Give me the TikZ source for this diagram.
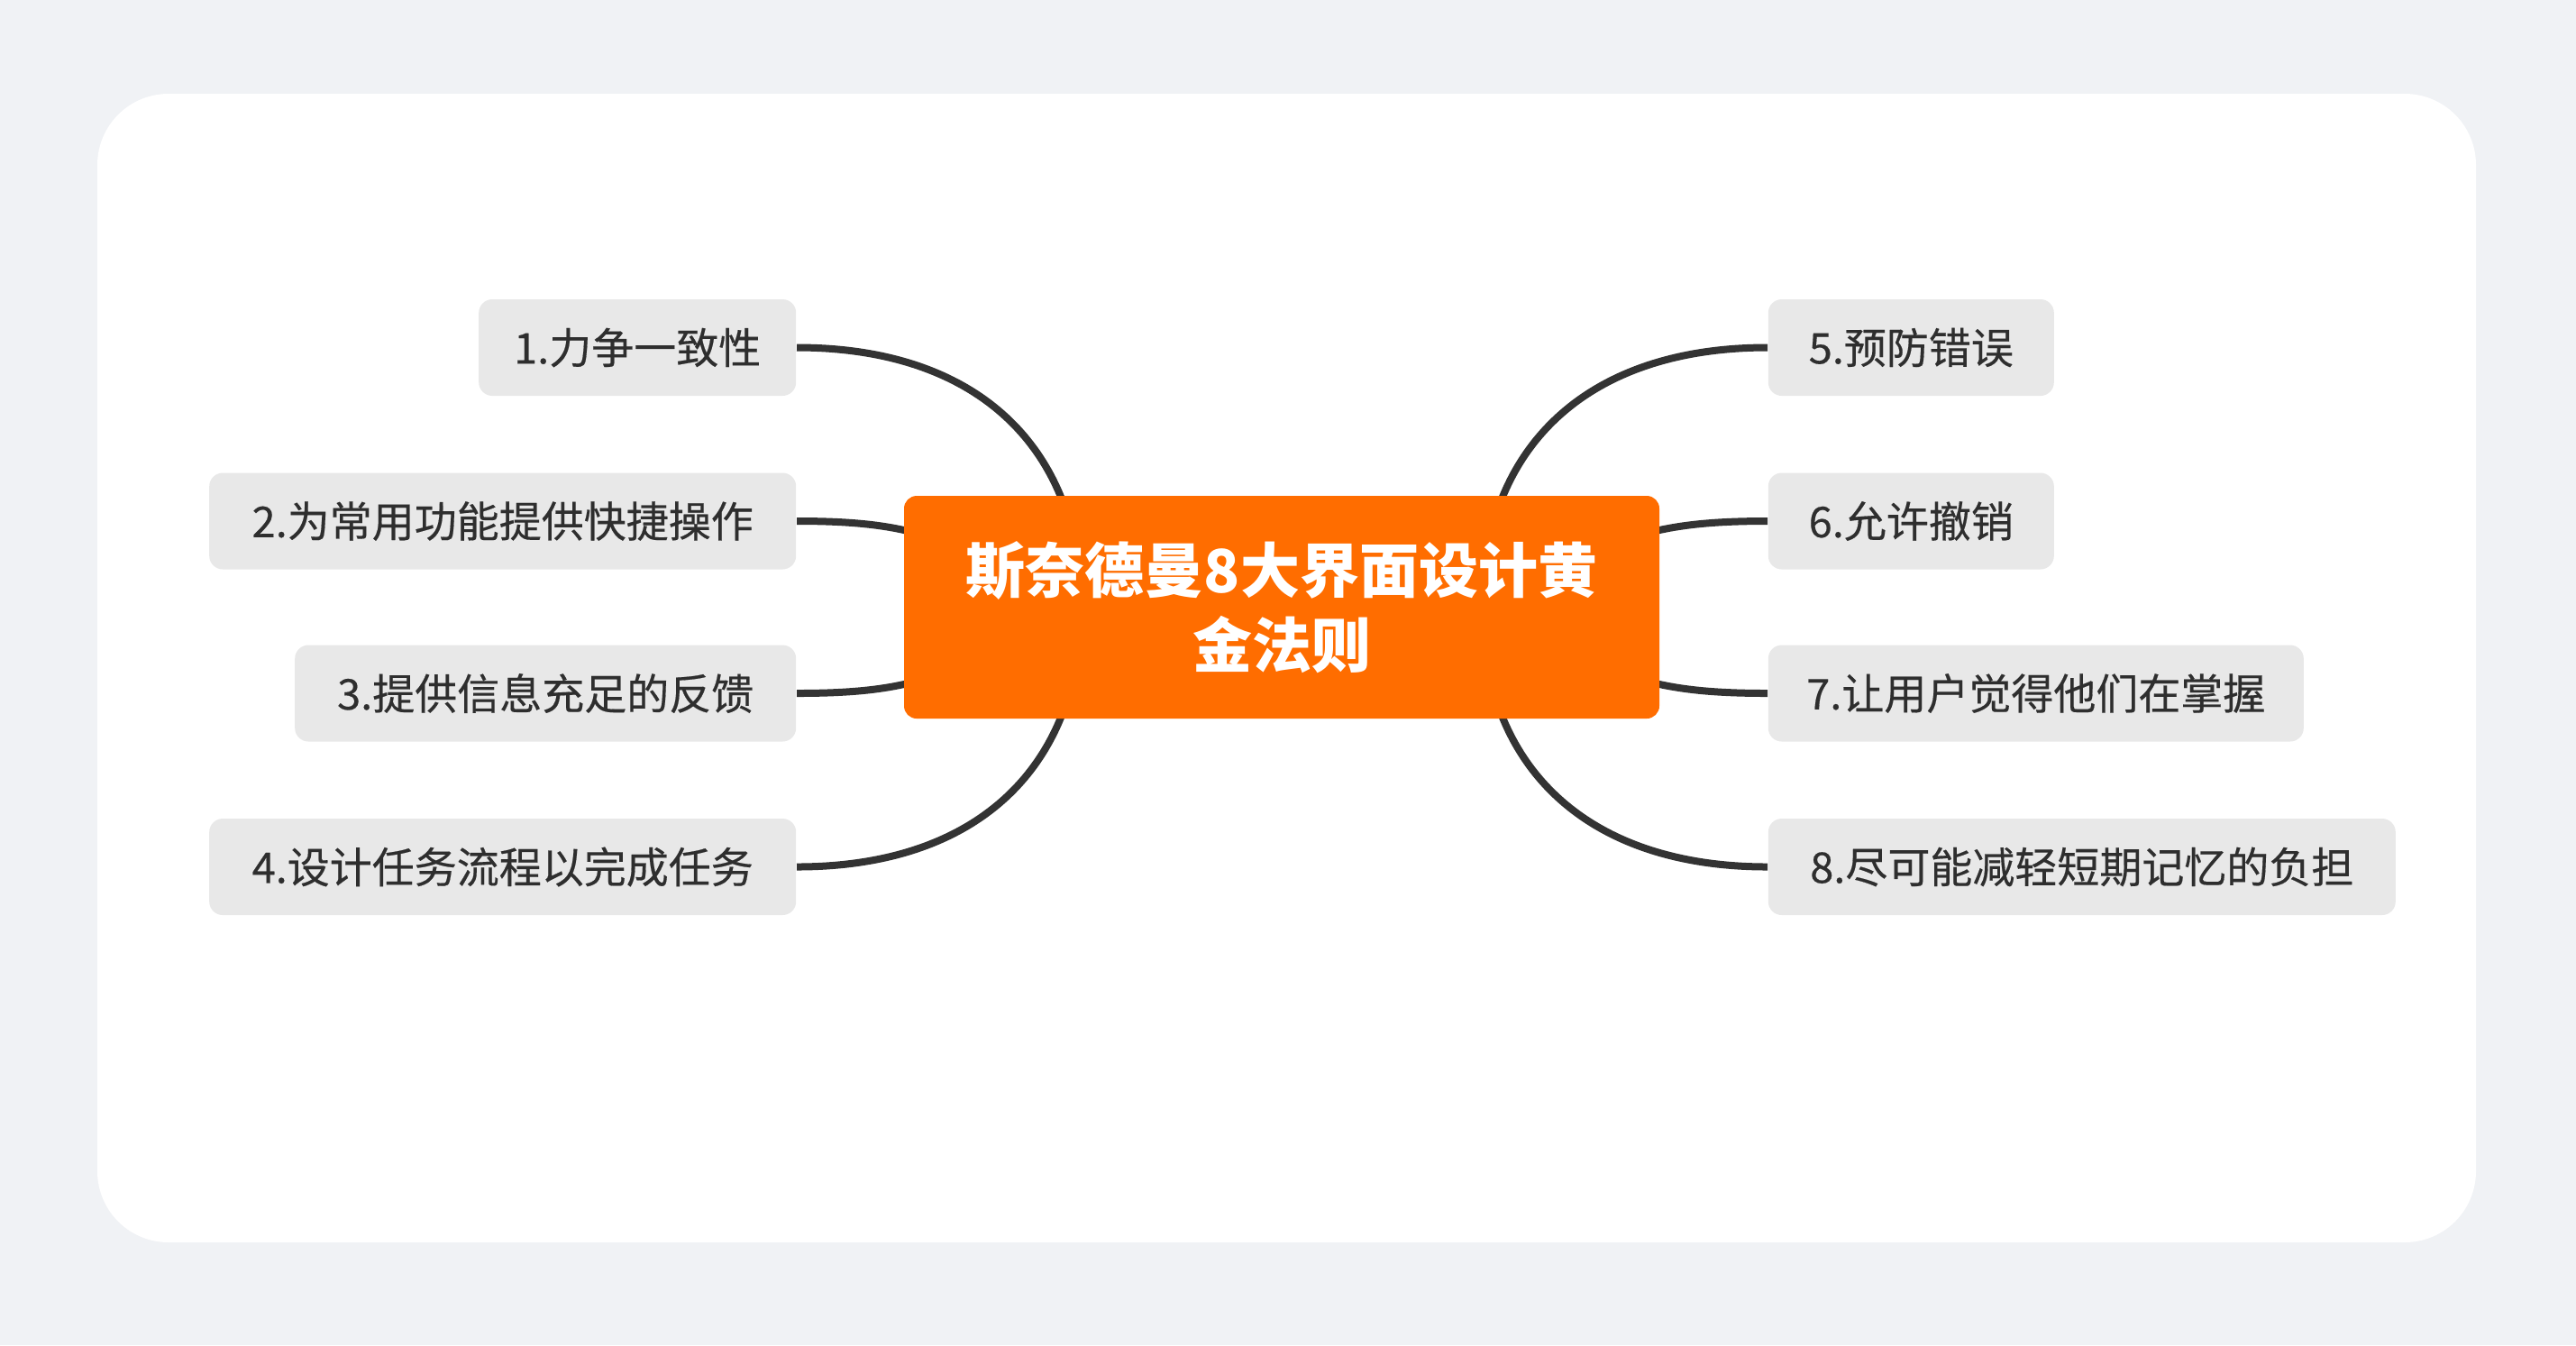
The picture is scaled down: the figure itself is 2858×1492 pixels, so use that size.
\documentclass[tikz,border=0pt]{standalone}
\usepackage{fontspec}
\setmainfont{Noto Sans CJK SC}
\newfontfamily\topicfont[FakeBold=0.35]{Noto Sans CJK SC}
\usetikzlibrary{calc}
\definecolor{pagebg}{HTML}{F0F2F5}
\definecolor{boxgray}{HTML}{E8E8E8}
\definecolor{textdark}{HTML}{2E2E2E}
\definecolor{rootorange}{HTML}{FF6D00}
\definecolor{edgedark}{HTML}{333333}
\pgfdeclarelayer{panel}
\pgfdeclarelayer{edges}
\pgfsetlayers{panel,edges,main}
\begin{document}
\begin{tikzpicture}[x=0.25pt,y=-0.25pt,
  topic/.style={fill=boxgray, rounded corners=3.75pt, minimum height=26.75pt,
    inner sep=0pt, text=textdark, font=\topicfont\fontsize{11.75}{14}\selectfont},
  rootbox/.style={fill=rootorange, rounded corners=3.5pt, minimum width=209.5pt,
    minimum height=61.75pt, inner sep=0pt, text=white, align=center,
    font=\fontsize{16.5}{20.75}\selectfont\bfseries},
  edge/.style={draw=edgedark, line width=2pt}]
\useasboundingbox (0,0) rectangle (2858,1492);
\begin{pgfonlayer}{panel}
  \fill[pagebg] (0,0) rectangle (2858,1492);
  \fill[white, rounded corners=19.75pt] (108,104) rectangle (2747,1378);
\end{pgfonlayer}

\node[rootbox] (root) at (1422,673.5) {斯奈德曼8大界面设计黄\\金法则};

\node[topic, anchor=east, minimum width=88pt]     (t1) at (884,385.5) {1.力争一致性};
\node[topic, anchor=east, minimum width=162.75pt] (t2) at (884,578)   {2.为常用功能提供快捷操作};
\node[topic, anchor=east, minimum width=139pt]    (t3) at (884,769)   {3.提供信息充足的反馈};
\node[topic, anchor=east, minimum width=162.75pt] (t4) at (884,961.5) {4.设计任务流程以完成任务};

\node[topic, anchor=west, minimum width=79.25pt]  (t5) at (1961,385.5) {5.预防错误};
\node[topic, anchor=west, minimum width=79.25pt]  (t6) at (1961,578)   {6.允许撤销};
\node[topic, anchor=west, minimum width=148.5pt]  (t7) at (1961,769)   {7.让用户觉得他们在掌握};
\node[topic, anchor=west, minimum width=174pt]    (t8) at (1961,961.5) {8.尽可能减轻短期记忆的负担};

\begin{pgfonlayer}{edges}
  \draw[edge] (t1.east) .. controls ($(t1.east)+(176,0)$) and ($(root.center)+(-258,-203.5)$) .. ($(root.center)+(-230,-73.5)$);
  \draw[edge] (t2.east) .. controls ($(t2.east)+(66,0)$) and ($(root.center)+(-432,-90.5)$) .. ($(root.center)+(-392,-78.5)$);
  \draw[edge] (t3.east) .. controls ($(t3.east)+(66,0)$) and ($(root.center)+(-432,90.5)$) .. ($(root.center)+(-392,78.5)$);
  \draw[edge] (t4.east) .. controls ($(t4.east)+(176,0)$) and ($(root.center)+(-258,203.5)$) .. ($(root.center)+(-230,73.5)$);
  \draw[edge] (t5.west) .. controls ($(t5.west)+(-176,0)$) and ($(root.center)+(258,-203.5)$) .. ($(root.center)+(230,-73.5)$);
  \draw[edge] (t6.west) .. controls ($(t6.west)+(-66,0)$) and ($(root.center)+(432,-90.5)$) .. ($(root.center)+(392,-78.5)$);
  \draw[edge] (t7.west) .. controls ($(t7.west)+(-66,0)$) and ($(root.center)+(432,90.5)$) .. ($(root.center)+(392,78.5)$);
  \draw[edge] (t8.west) .. controls ($(t8.west)+(-176,0)$) and ($(root.center)+(258,203.5)$) .. ($(root.center)+(230,73.5)$);
\end{pgfonlayer}
\end{tikzpicture}
\end{document}
